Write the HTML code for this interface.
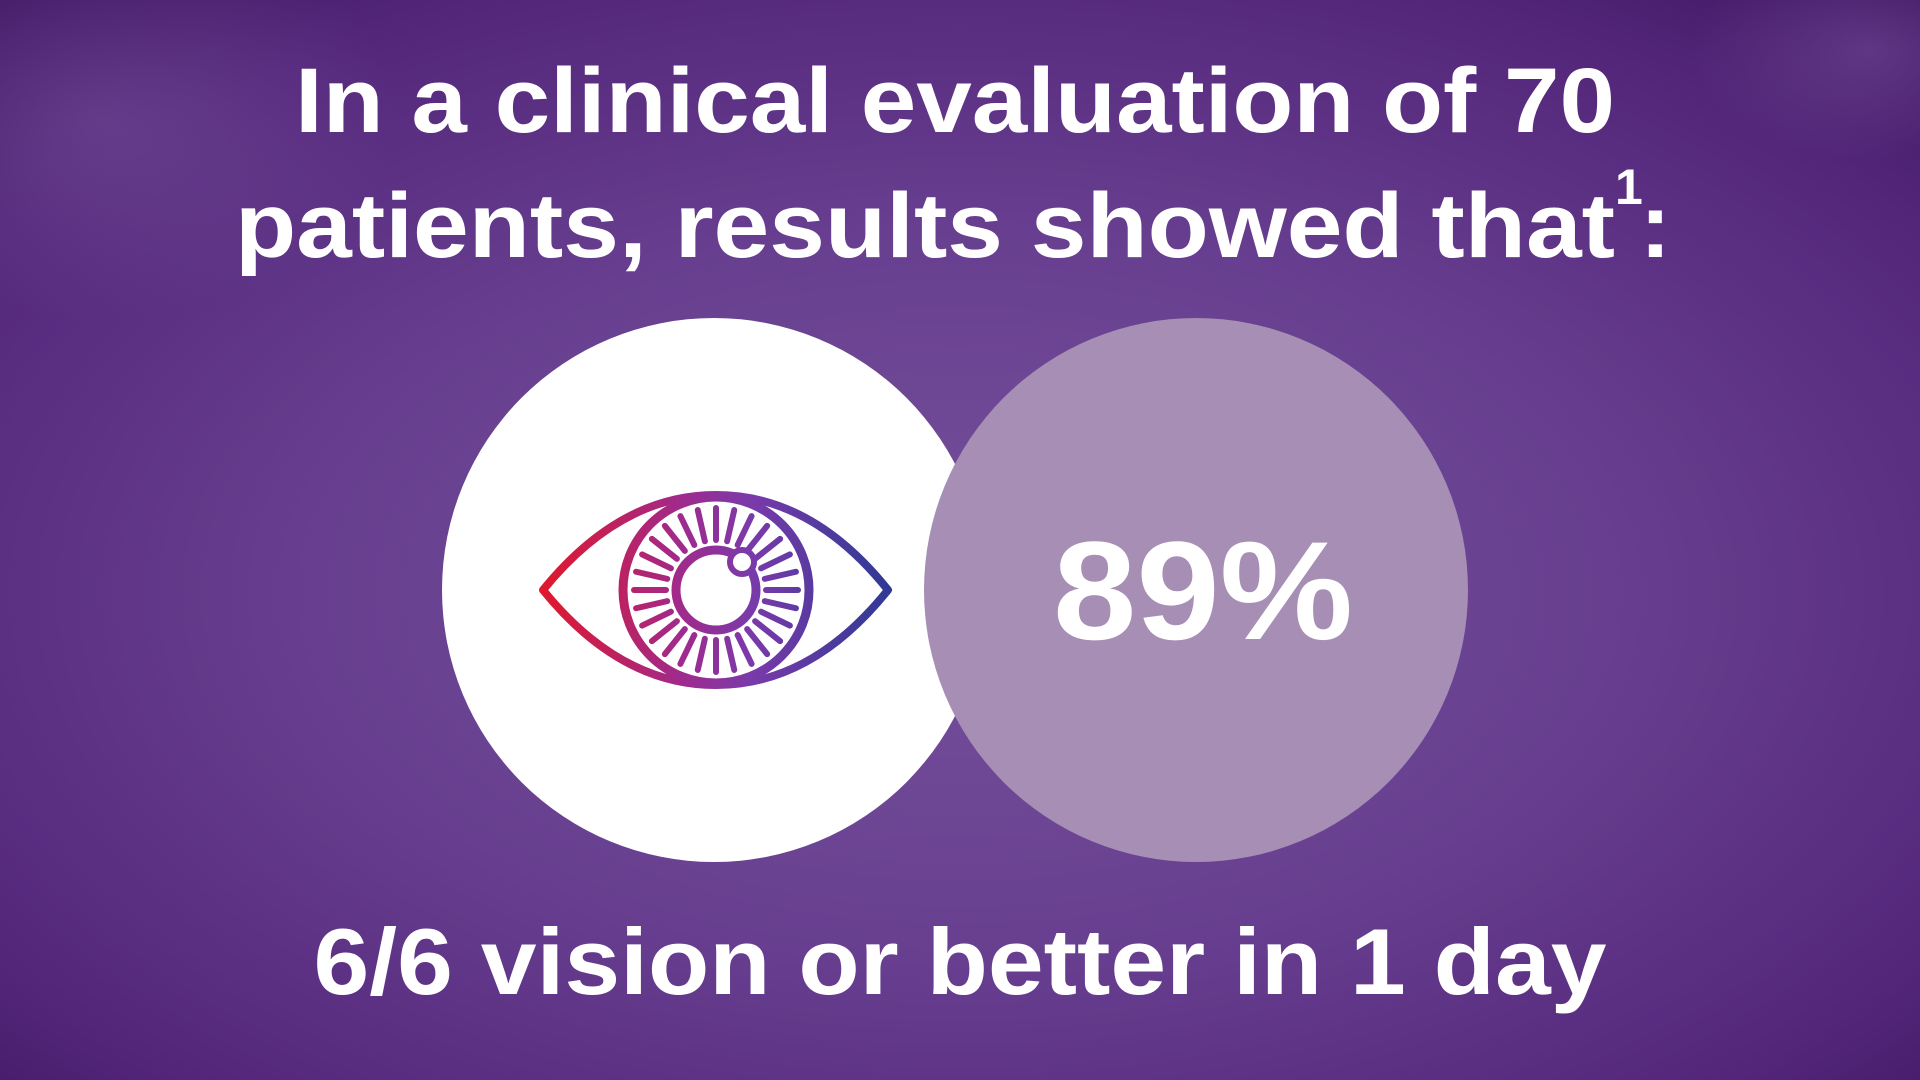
<!DOCTYPE html>
<html><head><meta charset="utf-8"><style>
html,body{margin:0;padding:0;width:1920px;height:1080px;overflow:hidden}
body{background:#5d3183}
</style></head><body>
<svg width="1920" height="1080" viewBox="0 0 1920 1080" xmlns="http://www.w3.org/2000/svg">
<defs>
<radialGradient id="bg" cx="0.5" cy="0.55" r="0.75">
<stop offset="0" stop-color="#74509a"/>
<stop offset="0.45" stop-color="#683f90"/>
<stop offset="0.8" stop-color="#53267a"/>
<stop offset="1" stop-color="#3e1560"/>
</radialGradient>
<radialGradient id="sw" cx="0.5" cy="0.5" r="0.5">
<stop offset="0" stop-color="#8a68b0" stop-opacity="0.35"/>
<stop offset="1" stop-color="#8a68b0" stop-opacity="0"/>
</radialGradient>
<linearGradient id="eyeg" x1="540" y1="0" x2="891" y2="0" gradientUnits="userSpaceOnUse">
<stop offset="0" stop-color="#e0182c"/>
<stop offset="0.4" stop-color="#a02a8c"/>
<stop offset="0.6" stop-color="#7a3aaa"/>
<stop offset="1" stop-color="#2e3a94"/>
</linearGradient>
</defs>
<rect width="1920" height="1080" fill="url(#bg)"/>
<ellipse cx="100" cy="120" rx="300" ry="200" fill="url(#sw)"/>
<ellipse cx="1870" cy="50" rx="180" ry="110" fill="url(#sw)"/>

<g font-family="Liberation Sans, sans-serif" font-weight="bold" fill="#fff">
<text x="295" y="132" font-size="92" textLength="1320" lengthAdjust="spacingAndGlyphs">In a clinical evaluation of 70</text>
<text x="235" y="257" font-size="92" textLength="1380" lengthAdjust="spacingAndGlyphs">patients, results showed that</text>
<text x="1615" y="204" font-size="50" font-weight="bold">1</text>
<text x="1640" y="257" font-size="92">:</text>
</g>

<circle cx="714" cy="590" r="272" fill="#fff"/>
<circle cx="1196" cy="590" r="272" fill="#a68eb5"/>

<g fill="none" stroke="url(#eyeg)">
<path d="M543 590 Q620 495 716 495 Q812 495 888 590 Q812 685 716 685 Q620 685 543 590 Z" stroke-width="8" stroke-linejoin="round"/>
<circle cx="716" cy="590" r="93" stroke-width="9"/>
<circle cx="716" cy="590" r="40" stroke-width="9"/>
<g id="spokes" stroke-width="6" stroke-linecap="round"></g>
<circle cx="742" cy="562" r="12" stroke-width="6" fill="#fff"/>
</g>

<text x="1203" y="639" font-family="Liberation Sans, sans-serif" font-weight="bold" font-size="140" fill="#fff" text-anchor="middle" textLength="300" lengthAdjust="spacingAndGlyphs">89%</text>

<text x="960" y="994" font-family="Liberation Sans, sans-serif" font-weight="bold" font-size="94" fill="#fff" text-anchor="middle" textLength="1293" lengthAdjust="spacingAndGlyphs">6/6 vision or better in 1 day</text>
</svg>
<script>
const g=document.getElementById('spokes');
const n=28;
for(let i=0;i<n;i++){
  const a=i*2*Math.PI/n;
  const dx=Math.cos(a),dy=Math.sin(a);
  const ex=716+dx*64-742, ey=590+dy*64-562;
  if(Math.hypot(ex,ey)<20) continue;
  const l=document.createElementNS('http://www.w3.org/2000/svg','line');
  l.setAttribute('x1',716+dx*50);l.setAttribute('y1',590+dy*50);
  l.setAttribute('x2',716+dx*82);l.setAttribute('y2',590+dy*82);
  
  
  g.appendChild(l);
}
</script>
</body></html>
